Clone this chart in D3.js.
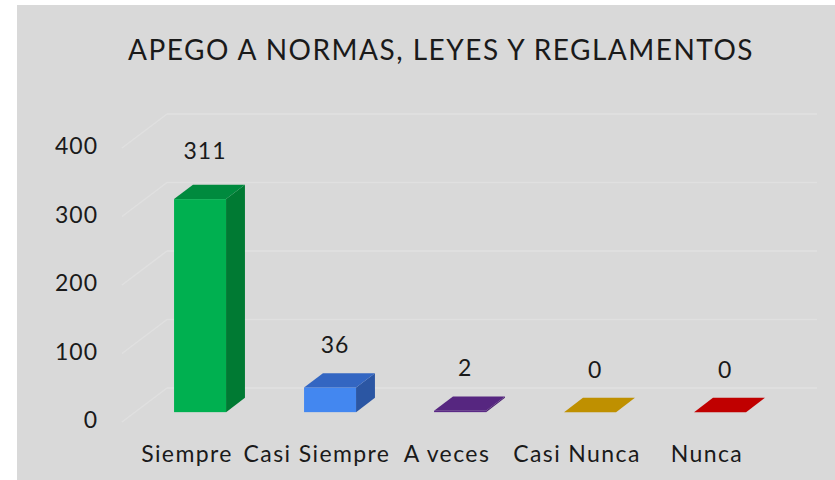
<!DOCTYPE html>
<html>
<head>
<meta charset="utf-8">
<script src="https://cdn.jsdelivr.net/npm/d3@7"></script>
<style>
  body { margin: 0; background: #fff; }
  svg { display: block; }
</style>
</head>
<body>
<svg width="835" height="480"></svg>
<script>
  var categories = ["Siempre", "Casi Siempre", "A veces", "Casi Nunca", "Nunca"];
  var values = [311, 36, 2, 0, 0];
  var yTicks = [0, 100, 200, 300, 400];
  var chartTitle = "APEGO A NORMAS, LEYES Y REGLAMENTOS";

  // front, side, top colours per bar
  var colors = [
    ["#00b050", "#007a33", "#008a3e"],
    ["#4387f0", "#2b56a3", "#3366c2"],
    ["#5b2a86", "#4a1f70", "#562680"],
    ["#c99a06", "#a57d00", "#bf9000"],
    ["#d00000", "#a00000", "#c00000"]
  ];

  var svg = d3.select("svg");
  var width = +svg.attr("width");
  var height = +svg.attr("height");
  var font = "Lato, 'Open Sans', sans-serif";
  var ink = "#1a1a1a";

  svg.append("rect")
    .attr("x", 17).attr("y", 5)
    .attr("width", width - 17).attr("height", height - 5)
    .attr("fill", "#d9d9d9");

  svg.append("text")
    .attr("x", 441).attr("y", 60)
    .attr("text-anchor", "middle")
    .attr("font-family", font)
    .attr("font-size", 28)
    .attr("letter-spacing", 1.5)
    .attr("fill", ink)
    .text(chartTitle);

  // floor front plane
  var xScale = d3.scaleBand()
    .domain(categories)
    .range([122, 772])
    .paddingInner(0.6)
    .paddingOuter(0.3);

  var yScale = d3.scaleLinear()
    .domain([0, 400])
    .range([422, 148]);

  // depth of the whole box and where the bar sits in it
  var depth = { dx: 45, dy: -34 };
  var barFront = 0.29, barBack = 0.71;

  var grid = svg.append("g").attr("stroke", "#e0e0e0").attr("stroke-width", 1.5).attr("fill", "none");
  grid.selectAll("line.wall")
    .data(yTicks)
    .enter().append("line")
    .attr("class", "wall")
    .attr("x1", 122 + depth.dx)
    .attr("x2", 772 + depth.dx)
    .attr("y1", function (d) { return yScale(d) + depth.dy; })
    .attr("y2", function (d) { return yScale(d) + depth.dy; });
  grid.selectAll("line.side")
    .data(yTicks)
    .enter().append("line")
    .attr("class", "side")
    .attr("x1", 122)
    .attr("x2", 122 + depth.dx)
    .attr("y1", function (d) { return yScale(d); })
    .attr("y2", function (d) { return yScale(d) + depth.dy; });

  svg.append("g").selectAll("text")
    .data(yTicks)
    .enter().append("text")
    .attr("x", 98)
    .attr("y", function (d) { return yScale(d) - 2; })
    .attr("dy", "0.35em")
    .attr("text-anchor", "end")
    .attr("font-family", font)
    .attr("font-size", 23)
    .attr("letter-spacing", 1)
    .attr("fill", ink)
    .text(function (d) { return d; });

  var fx = depth.dx * barFront, fy = depth.dy * barFront;
  var bx = depth.dx * barBack, by = depth.dy * barBack;
  var ddx = bx - fx, ddy = by - fy;
  var bw = xScale.bandwidth();

  var bars = svg.append("g").selectAll("g")
    .data(categories)
    .enter().append("g");

  bars.each(function (c, i) {
    var g = d3.select(this);
    var x0 = xScale(c) + fx;
    var yb = yScale(0) + fy;
    var yt = yScale(values[i]) + fy;
    var col = colors[i];
    if (yb - yt > 0.1) {
      g.append("rect")
        .attr("x", x0).attr("y", yt)
        .attr("width", bw).attr("height", yb - yt)
        .attr("fill", col[0]);
      g.append("path")
        .attr("d", "M" + (x0 + bw) + "," + yt + "L" + (x0 + bw + ddx) + "," + (yt + ddy) +
          "L" + (x0 + bw + ddx) + "," + (yb + ddy) + "L" + (x0 + bw) + "," + yb + "Z")
        .attr("fill", col[1]);
    }
    g.append("path")
      .attr("d", "M" + x0 + "," + yt + "L" + (x0 + ddx) + "," + (yt + ddy) +
        "L" + (x0 + bw + ddx) + "," + (yt + ddy) + "L" + (x0 + bw) + "," + yt + "Z")
      .attr("fill", col[2]);
    g.append("text")
      .attr("x", x0 + bw / 2 + 5)
      .attr("y", yt + ddy - (i === 0 ? 26 : 20))
      .attr("text-anchor", "middle")
      .attr("font-family", font)
      .attr("font-size", 23)
      .attr("letter-spacing", 1)
      .attr("fill", ink)
      .text(values[i]);
  });

  svg.append("g").selectAll("text")
    .data(categories)
    .enter().append("text")
    .attr("x", function (d) { return xScale(d) + xScale.bandwidth() / 2; })
    .attr("y", 462)
    .attr("text-anchor", "middle")
    .attr("font-family", font)
    .attr("font-size", 23)
    .attr("letter-spacing", 1.4)
    .attr("fill", ink)
    .text(function (d) { return d; });
</script>
</body>
</html>
